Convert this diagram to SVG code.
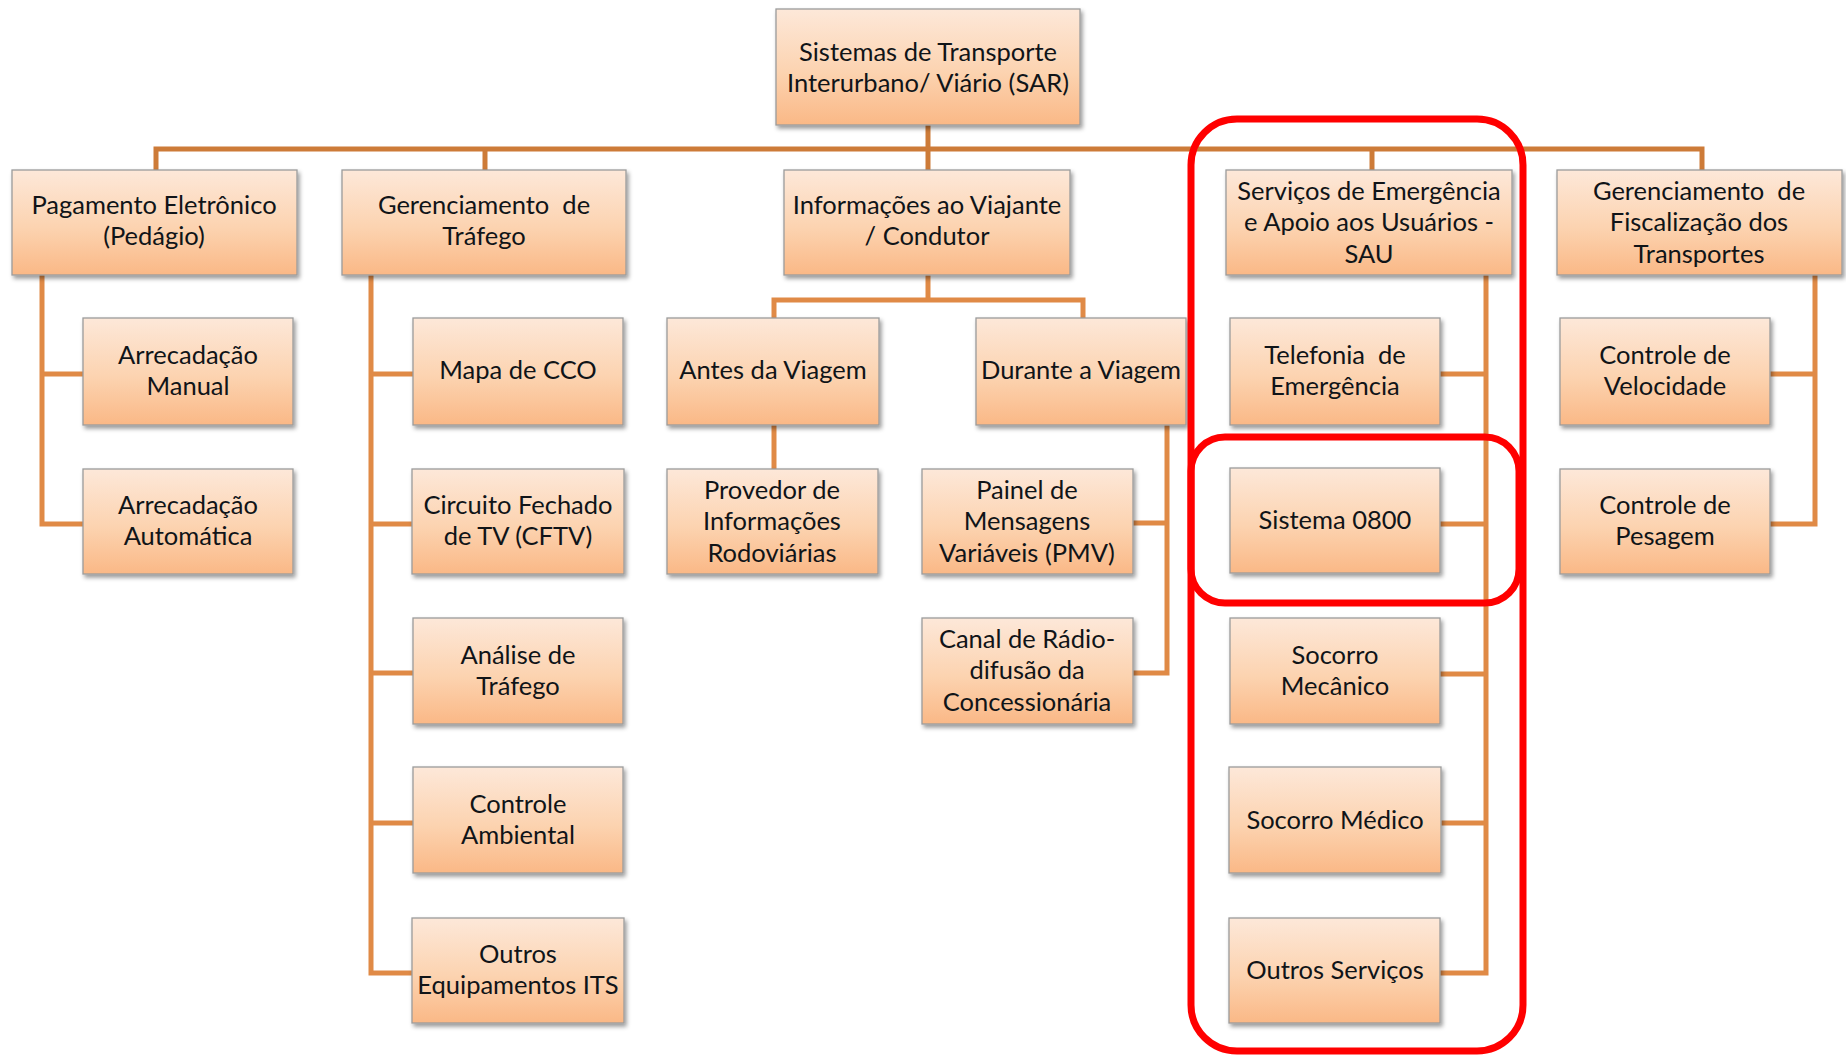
<svg xmlns="http://www.w3.org/2000/svg" width="1846" height="1056" viewBox="0 0 1846 1056">
<style>
.box{fill:url(#g);stroke:#9b9b9b;stroke-width:1.3;filter:url(#sh)}
.t{font-family:Lato,"Open Sans","Liberation Sans",sans-serif;font-size:25.5px;fill:#101418;text-anchor:middle}
.c{fill:none;stroke:#e08a46;stroke-width:5;stroke-linejoin:miter}
.bus{fill:none;stroke:#cd7b38;stroke-width:5;stroke-linejoin:miter}
.red{fill:none;stroke:#ff0000;stroke-width:7}
</style>
<defs>
<linearGradient id="g" x1="0" y1="0" x2="0" y2="1">
<stop offset="0" stop-color="#fde8d9"/>
<stop offset="0.55" stop-color="#fcd3b0"/>
<stop offset="1" stop-color="#fab886"/>
</linearGradient>
<filter id="sh" x="-10%" y="-10%" width="120%" height="130%">
<feDropShadow dx="2" dy="3" stdDeviation="2" flood-color="#000" flood-opacity="0.4"/>
</filter>
</defs>
<rect width="1846" height="1056" fill="#fff"/>
<g id="connectors">
<path class="bus" d="M156,172 V149 H1702 V172"/>
<path class="bus" d="M928,125 V149"/>
<path class="bus" d="M485,149 V172"/>
<path class="bus" d="M928,149 V172"/>
<path class="bus" d="M1372,149 V172"/>
<path class="c" d="M42,275 V524 H85"/>
<path class="c" d="M42,374 H85"/>
<path class="c" d="M371,275 V973 H415"/>
<path class="c" d="M371,374 H415 M371,524 H414 M371,673 H415 M371,823 H415"/>
<path class="c" d="M928,275 V300"/>
<path class="c" d="M774,320 V300 H1083 V320"/>
<path class="c" d="M774,425 V470"/>
<path class="c" d="M1167,425 V673 H1133"/>
<path class="c" d="M1167,523 H1133"/>
<path class="c" d="M1486,275 V973 H1440"/>
<path class="c" d="M1486,374 H1440 M1486,524 H1440 M1486,674 H1440 M1486,823 H1441"/>
<path class="c" d="M1815,275 V524 H1770"/>
<path class="c" d="M1815,374 H1770"/>
</g>
<g id="root"><rect class="box" x="776" y="9" width="304" height="116"/><text class="t" x="928" y="61">Sistemas de Transporte</text><text class="t" x="928" y="92">Interurbano/ Viário (SAR)</text></g>
<g id="pagamento"><rect class="box" x="12" y="170" width="285" height="105"/><text class="t" x="154" y="214">Pagamento Eletrônico</text><text class="t" x="154" y="245">(Pedágio)</text></g>
<g id="gerTrafego"><rect class="box" x="342" y="170" width="284" height="105"/><text class="t" x="484" y="214" xml:space="preserve">Gerenciamento  de</text><text class="t" x="484" y="245">Tráfego</text></g>
<g id="info"><rect class="box" x="784" y="170" width="286" height="105"/><text class="t" x="927" y="214">Informações ao Viajante</text><text class="t" x="927" y="245">/ Condutor</text></g>
<g id="servicos"><rect class="box" x="1226" y="170" width="286" height="105"/><text class="t" x="1369" y="200">Serviços de Emergência</text><text class="t" x="1369" y="231">e Apoio aos Usuários -</text><text class="t" x="1369" y="263">SAU</text></g>
<g id="fiscal"><rect class="box" x="1557" y="170" width="285" height="105"/><text class="t" x="1699" y="200" xml:space="preserve">Gerenciamento  de</text><text class="t" x="1699" y="231">Fiscalização dos</text><text class="t" x="1699" y="263">Transportes</text></g>
<g id="arrecManual"><rect class="box" x="83" y="318" width="210" height="107"/><text class="t" x="188" y="364">Arrecadação</text><text class="t" x="188" y="395">Manual</text></g>
<g id="arrecAuto"><rect class="box" x="83" y="469" width="210" height="105"/><text class="t" x="188" y="514">Arrecadação</text><text class="t" x="188" y="545">Automática</text></g>
<g id="mapa"><rect class="box" x="413" y="318" width="210" height="107"/><text class="t" x="518" y="379">Mapa de CCO</text></g>
<g id="cftv"><rect class="box" x="412" y="469" width="212" height="105"/><text class="t" x="518" y="514">Circuito Fechado</text><text class="t" x="518" y="545">de TV (CFTV)</text></g>
<g id="analise"><rect class="box" x="413" y="618" width="210" height="106"/><text class="t" x="518" y="664">Análise de</text><text class="t" x="518" y="695">Tráfego</text></g>
<g id="ambiental"><rect class="box" x="413" y="767" width="210" height="106"/><text class="t" x="518" y="813">Controle</text><text class="t" x="518" y="844">Ambiental</text></g>
<g id="outrosITS"><rect class="box" x="412" y="918" width="212" height="105"/><text class="t" x="518" y="963">Outros</text><text class="t" x="518" y="994">Equipamentos ITS</text></g>
<g id="antes"><rect class="box" x="667" y="318" width="212" height="107"/><text class="t" x="773" y="379">Antes da Viagem</text></g>
<g id="durante"><rect class="box" x="976" y="318" width="210" height="107"/><text class="t" x="1081" y="379">Durante a Viagem</text></g>
<g id="provedor"><rect class="box" x="667" y="469" width="211" height="105"/><text class="t" x="772" y="499">Provedor de</text><text class="t" x="772" y="530">Informações</text><text class="t" x="772" y="562">Rodoviárias</text></g>
<g id="pmv"><rect class="box" x="922" y="469" width="211" height="105"/><text class="t" x="1027" y="499">Painel de</text><text class="t" x="1027" y="530">Mensagens</text><text class="t" x="1027" y="562">Variáveis (PMV)</text></g>
<g id="radio"><rect class="box" x="922" y="618" width="211" height="106"/><text class="t" x="1027" y="648">Canal de Rádio-</text><text class="t" x="1027" y="679">difusão da</text><text class="t" x="1027" y="711">Concessionária</text></g>
<g id="telefonia"><rect class="box" x="1230" y="318" width="210" height="107"/><text class="t" x="1335" y="364" xml:space="preserve">Telefonia  de</text><text class="t" x="1335" y="395">Emergência</text></g>
<g id="sistema0800"><rect class="box" x="1230" y="468" width="210" height="105"/><text class="t" x="1335" y="529">Sistema 0800</text></g>
<g id="mecanico"><rect class="box" x="1230" y="618" width="210" height="106"/><text class="t" x="1335" y="664">Socorro</text><text class="t" x="1335" y="695">Mecânico</text></g>
<g id="medico"><rect class="box" x="1229" y="767" width="212" height="106"/><text class="t" x="1335" y="829">Socorro Médico</text></g>
<g id="outrosServ"><rect class="box" x="1229" y="918" width="211" height="105"/><text class="t" x="1335" y="979">Outros Serviços</text></g>
<g id="velocidade"><rect class="box" x="1560" y="318" width="210" height="107"/><text class="t" x="1665" y="364">Controle de</text><text class="t" x="1665" y="395">Velocidade</text></g>
<g id="pesagem"><rect class="box" x="1560" y="469" width="210" height="105"/><text class="t" x="1665" y="514">Controle de</text><text class="t" x="1665" y="545">Pesagem</text></g>
<g id="highlights">
<rect class="red" x="1191" y="119" width="332" height="932" rx="46"/>
<rect class="red" x="1191" y="437" width="328" height="166" rx="34"/>
</g>
</svg>
